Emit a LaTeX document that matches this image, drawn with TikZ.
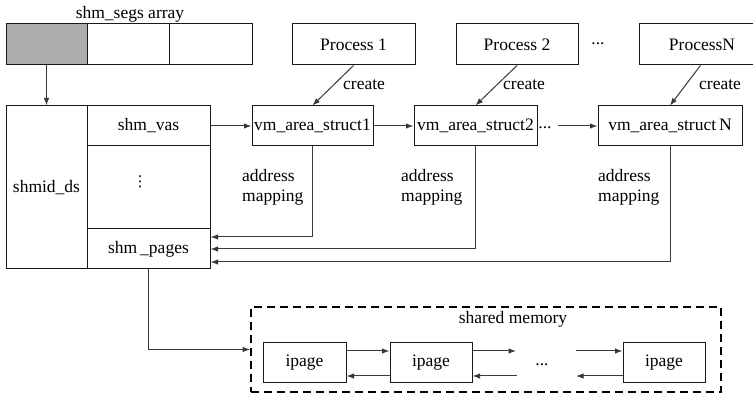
\documentclass[tikz,border=0pt]{standalone}
\usepackage{fontspec}
\setmainfont{Liberation Serif}
\newfontfamily\myserif{Liberation Serif}
\newfontfamily\dejavu{DejaVu Sans}
\usetikzlibrary{arrows.meta,calc}
\begin{document}
\begin{tikzpicture}[x=1pt,y=-1pt,
  font=\myserif\fontsize{17.5}{20}\selectfont,
  box/.style={draw=black!90, line width=1pt, inner sep=0pt, minimum height=40pt},
  conn/.style={draw=black!78, line width=1pt},
  arr/.style={conn, -{Latex[length=7.5pt,width=5.5pt]}},
  lbl/.style={inner sep=0pt},
]
\useasboundingbox (0,0) rectangle (753,395);
\clip (0,0) rectangle (753,395);
% shm_segs array
\node[lbl] (seglabel) at (130,14) {shm\_segs array};
\node[box, fill=black!32, minimum width=81pt, minimum height=41pt] (seg1) at (46.5,44.5) {};
\node[box, minimum width=82pt, minimum height=41pt] (seg2) at (128,44.5) {};
\node[box, minimum width=83pt, minimum height=41pt] (seg3) at (210.5,44.5) {};
% processes
\node[box, minimum width=123pt, minimum height=41pt] (p1) at (353.5,44.5) {Process 1};
\node[box, minimum width=122pt, minimum height=41pt] (p2) at (517,44.5) {Process 2};
\node[lbl] (pdots) at (598,44) {...};
\node[box, minimum width=123pt, minimum height=41pt] (pn) at (700.5,44.5) {};
\node[lbl] (pntext) at (702,44.5) {ProcessN};
% shmid_ds
\node[box, minimum width=81pt, minimum height=163pt] (shmid) at (46.5,187.5) {shmid\_ds};
\node[box, minimum width=123pt] (vas) at (148.5,126) {shm\_vas};
\node[box, minimum width=123pt, minimum height=83pt] (mid) at (148.5,187.5) {};
\node[lbl, font=\dejavu\fontsize{15}{15}\selectfont] (vd) at (140,182) {⋮};
\node[box, minimum width=123pt] (pages) at (148.5,249) {shm\,\_pages};
% vm_area_structs
\node[box, minimum width=121pt] (vm1) at (312.5,126) {vm\_area\_struct1};
\node[box, minimum width=123pt] (vm2) at (475.5,126) {vm\_area\_struct2};
\node[lbl] (vmdots) at (545,128) {...};
\coordinate (vmdotsend) at (558,126);
\node[box, minimum width=144pt] (vmn) at (670,126) {vm\_area\_struct\,N};
% create labels
\node[lbl, anchor=west] (c1) at (343,85) {create};
\node[lbl, anchor=west] (c2) at (503,85) {create};
\node[lbl, anchor=west] (c3) at (699,85) {create};
% address mapping labels
\node[lbl, anchor=west, align=left] (am1) at (242,187) {address\\mapping};
\node[lbl, anchor=west, align=left] (am2) at (401,187) {address\\mapping};
\node[lbl, anchor=west, align=left] (am3) at (598,187) {address\\mapping};
% shared memory
\node[draw=black, line width=1.8pt, dash pattern=on 8pt off 5pt, minimum width=470pt, minimum height=85pt, inner sep=0pt] (shared) at (486,349.5) {};
\node[lbl] (sharedlbl) at (513,319) {shared memory};
\node[box, minimum width=83pt] (i1) at (304.5,363) {ipage};
\node[box, minimum width=82pt] (i2) at (431,363) {ipage};
\node[lbl] (idots) at (542,365) {...};
\node[box, minimum width=82pt] (i3) at (664,363) {ipage};
\coordinate (i2r) at (516,351);
\coordinate (i2l) at (517,376);
\coordinate (i3r) at (576,351);
\coordinate (i3l) at (576,376);
% connectors
\draw[arr] (seg1) -- (shmid);
\draw[arr] (vas) -- (vm1);
\draw[arr] (vm1) -- (vm2);
\draw[arr] (vmdotsend) -- (vmn);
\draw[arr] (p1.south) -- (vm1.north);
\draw[arr] (p2.south) -- (vm2.north);
\draw[arr] (pn.south) -- (vmn.north);
\draw[arr] (vm1.south) |- ([yshift=12pt]pages.east);
\draw[arr] (vm2.south) |- (pages.east);
\draw[arr] (vmn.south) |- ([yshift=-13pt]pages.east);
\draw[arr] (pages.south) |- (shared.west);
\draw[arr] ([yshift=12pt]i1.east) -- ([yshift=12pt]i2.west);
\draw[arr] ([yshift=-13pt]i2.west) -- ([yshift=-13pt]i1.east);
\draw[arr] ([yshift=12pt]i2.east) -- (i2r);
\draw[arr] (i2l) -- ([yshift=-13pt]i2.east);
\draw[arr] (i3r) -- ([yshift=12pt]i3.west);
\draw[arr] ([yshift=-13pt]i3.west) -- (i3l);
\end{tikzpicture}
\end{document}
